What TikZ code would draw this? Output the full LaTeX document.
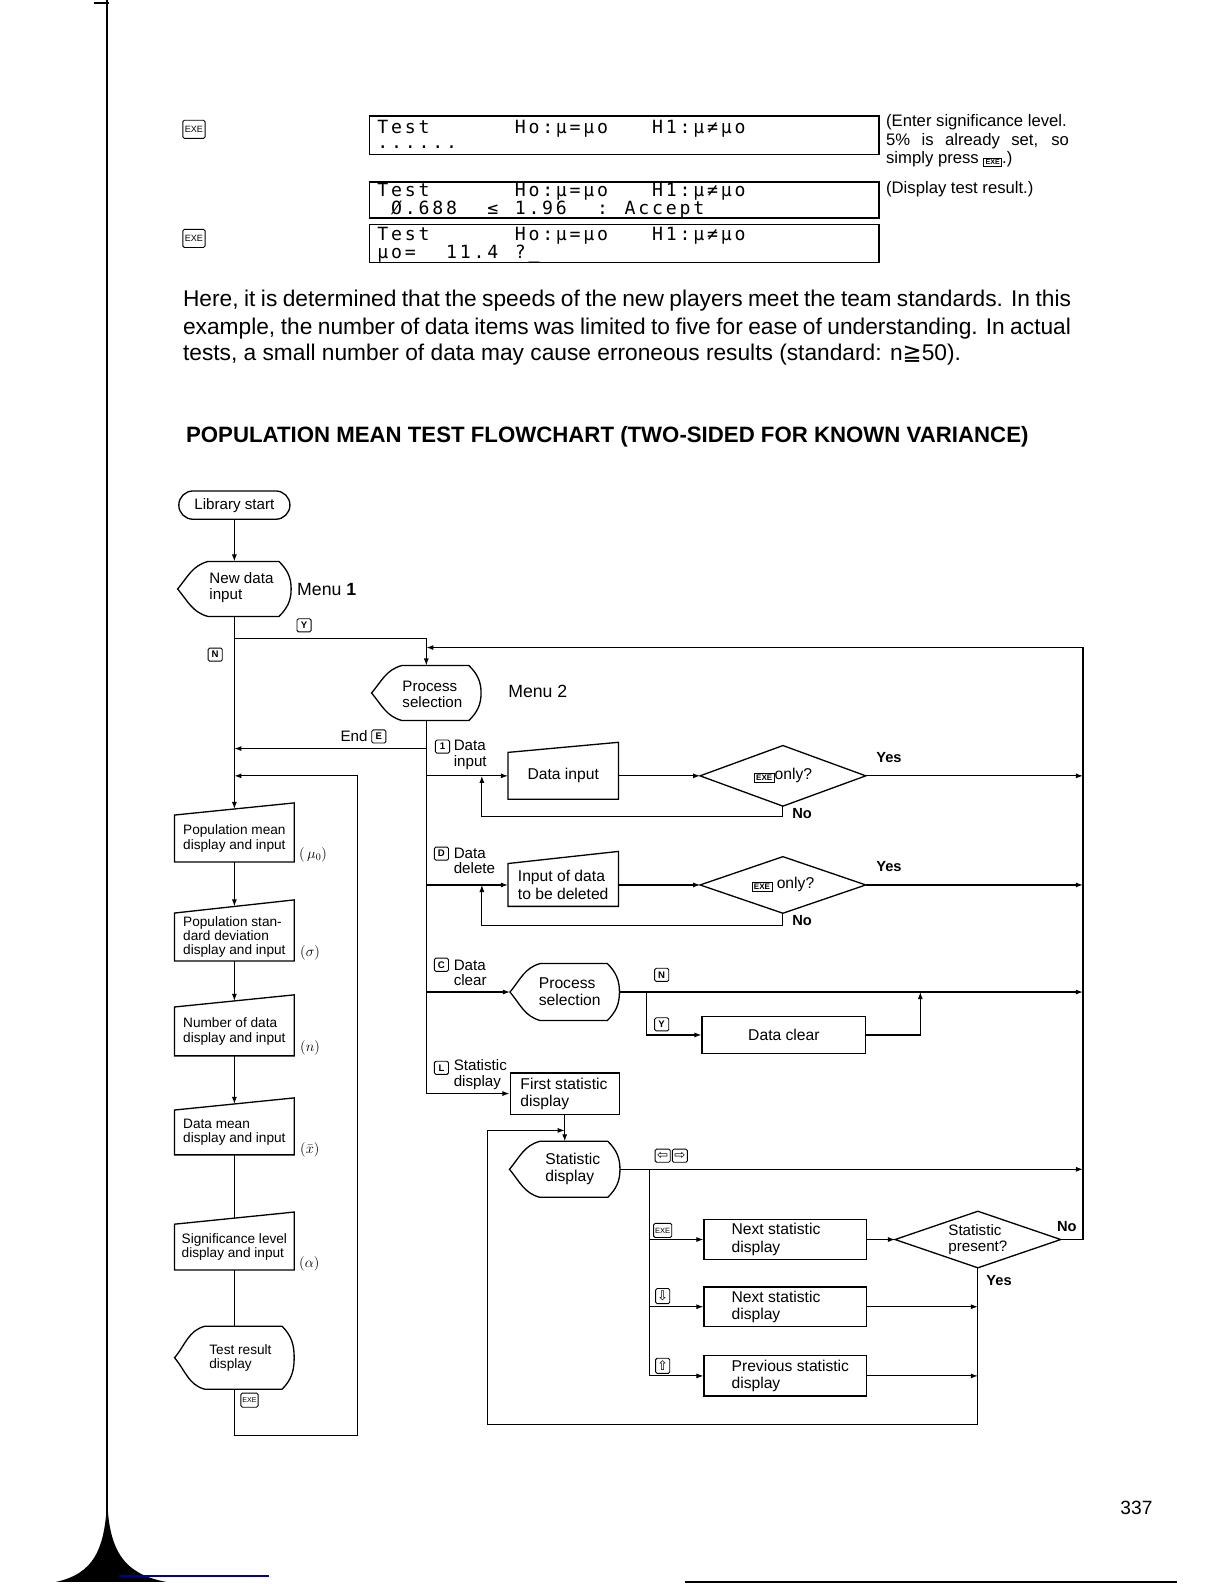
\documentclass[tikz,border=0pt]{standalone}
\usepackage{fontspec}
\setmainfont{Liberation Sans}
\newfontfamily\lcdfont{DejaVu Sans Mono}
\newfontfamily\djv{DejaVu Sans}
\usetikzlibrary{arrows.meta,shapes.geometric,calc}
\newcommand\fsz[2]{\fontsize{#1pt}{#2pt}\selectfont}
\def\lcd#1{\lcdA#1\relax}
\def\lcdA#1{\ifx#1\relax\else\makebox[13.6pt][c]{#1}\expandafter\lcdA\fi}
\newcommand\kbox[2]{{\setlength\fboxsep{1.5pt}\setlength\fboxrule{0.8pt}\raisebox{-1pt}{\fbox{\fsz{#1}{#1}\bfseries #2}}}}
\newcommand\dispout[1]{%
  \draw[shapeline] (#1.west) to[out=50,in=195] ([xshift=30pt]#1.north west)
    -- ([xshift=-12pt]#1.north east) to[out=-45,in=90] (#1.east)
    to[out=-90,in=45] ([xshift=-12pt]#1.south east)
    -- ([xshift=30pt]#1.south west) to[out=165,in=-50] (#1.west) -- cycle;}
\newcommand\manout[2]{%
  \draw[shapeline] (#1.north west) -- ([yshift=#2pt]#1.north east) -- (#1.south east) -- (#1.south west) -- cycle;
  \coordinate (#1-top) at ([yshift=#2pt/2]#1.north);}
\newcommand\diaout[3]{%
  \coordinate (#1-l) at ([xshift=-#2pt]#1.center);
  \coordinate (#1-r) at ([xshift=#2pt]#1.center);
  \coordinate (#1-t) at ([yshift=#3pt]#1.center);
  \coordinate (#1-b) at ([yshift=-#3pt]#1.center);
  \draw[shapeline] (#1-l) -- (#1-t) -- (#1-r) -- (#1-b) -- cycle;}
\tikzset{
  ln/.style={line width=1.1pt},
  arr/.style={line width=1.1pt,-{Latex[length=7pt,width=5pt]}},
  shapeline/.style={line width=1.3pt},
  kbx/.style={draw,line width=0.9pt,rounded corners=1.5pt,inner sep=0pt,minimum width=14pt,minimum height=13pt,font=\fsz{9.5}{9.5}\bfseries},
  bx/.style={draw,line width=1.3pt,inner sep=0pt},
  txt/.style={inner sep=0pt,align=left},
  boxtxt/.style={txt,font=\fsz{15.5}{17}},
  coltxt/.style={txt,font=\fsz{13.5}{14}},
  yn/.style={inner sep=0pt,font=\fsz{14.5}{15}\bfseries},
  lcdbox/.style={draw,line width=1.4pt,minimum width=504pt,inner sep=0pt},
  lcdrow/.style={inner sep=0pt,anchor=west,font=\lcdfont\fsz{18}{18}},
  mlabel/.style={inner sep=0pt,anchor=west,font=\fsz{14}{14}},
}
\begin{document}
\begin{tikzpicture}[x=1pt,y=-1pt]
\fill[white] (0,0) rectangle (1212,1568);
\useasboundingbox (0,0) rectangle (1212,1568);
% page edge
\draw[line width=2pt] (106,0) -- (106,1500);
\draw[line width=1.5pt] (93,3) -- (108,3);
\fill (106,1480) .. controls (107,1535) and (122,1558) .. (165,1566) -- (55,1566) .. controls (92,1558) and (105,1535) .. (106,1480) -- cycle;
\draw[blue!60!black,line width=1.2pt] (118,1560) -- (266,1560);
\draw[line width=2pt] (678,1566) -- (1165,1566);
\node[inner sep=0pt,font=\fsz{19}{19}] (pgno) at (1125,1493) {337};

% ---------- top displays ----------
\node[kbx,minimum width=22pt,minimum height=18pt,font=\fsz{9}{9}] (exeA) at (192,128) {EXE};
\node[kbx,minimum width=22pt,minimum height=18pt,font=\fsz{9}{9}] (exeB) at (192,236) {EXE};
\node[lcdbox,minimum height=38pt] (lcd1) at (618,134) {};
\node[lcdrow] (lcd1a) at (372,127) {\lcd{Test~~~~~~Ho:μ=μo~~~H1:μ≠μo}};
\node[lcdrow] (lcd1b) at (372,146) {\lcd{......}};
\node[lcdbox,minimum height=36pt] (lcd2) at (618,198) {};
\node[lcdrow] (lcd2a) at (372,190) {\lcd{Test~~~~~~Ho:μ=μo~~~H1:μ≠μo}};
\node[lcdrow] (lcd2b) at (372,207) {\lcd{~Ø.688~~≤~1.96~~:~Accept}};
\node[lcdbox,minimum height=38pt] (lcd3) at (618,241) {};
\node[lcdrow] (lcd3a) at (372,233) {\lcd{Test~~~~~~Ho:μ=μo~~~H1:μ≠μo}};
\node[lcdrow] (lcd3b) at (372,251) {\lcd{μo=~~11.4~?\_}};
\node[txt,anchor=west,font=\fsz{16.5}{19}] (note1) at (877,121) {(Enter significance level.};
\node[txt,anchor=west,font=\fsz{16.5}{19}] (note2) at (877,140) {\makebox[181pt][s]{5\% is already set, so}};
\node[txt,anchor=west,font=\fsz{16.5}{19}] (note3) at (877,158) {simply press \kbox{7}{EXE}.)};
\node[txt,anchor=west,font=\fsz{16.5}{19}] (note4) at (877,187) {(Display test result.)};

% ---------- paragraph and title ----------
\node[txt,anchor=west,font=\fsz{22.5}{25}] (par1) at (181,298) {\makebox[879pt][s]{Here, it is determined that the speeds of the new players meet the team standards. In this}};
\node[txt,anchor=west,font=\fsz{22.5}{25}] (par2) at (181,325) {\makebox[879pt][s]{example, the number of data items was limited to five for ease of understanding. In actual}};
\node[txt,anchor=west,font=\fsz{22.5}{25}] (par3) at (181,351) {tests, a small number of data may cause erroneous results (standard: n{\djv ≧}50).};
\node[txt,anchor=west,font=\fsz{22}{24}\bfseries] (title) at (184,432) {POPULATION MEAN TEST FLOWCHART (TWO-SIDED FOR KNOWN VARIANCE)};

% ---------- flowchart nodes ----------
\node[draw,line width=1.3pt,rounded corners=14pt,minimum width=110pt,minimum height=28pt,inner sep=0pt,font=\fsz{15}{17}] (start) at (232,500) {Library start};
\node[inner sep=0pt,minimum width=112pt,minimum height=54pt] (newdata) at (232,583) {};
\dispout{newdata}
\node[coltxt,font=\fsz{15}{16}] (newdata-t) at (239,582) {New data\\input};
\node[txt,anchor=west,font=\fsz{17.5}{19}] (menu1) at (294,584) {Menu \textbf{1}};
\node[kbx] (kY) at (301,619) {Y};
\node[kbx] (kN) at (213,648) {N};

% left column
\node[coltxt,minimum width=118pt,minimum height=46pt] (pm) at (232,830) {Population mean\\display and input};
\manout{pm}{12}
\node[mlabel] (lpm) at (296,846) {$(\,\mu_0)$};
\node[coltxt,minimum width=118pt,minimum height=47pt] (psd) at (232,927.5) {Population stan-\\dard deviation\\display and input};
\manout{psd}{13}
\node[mlabel] (lpsd) at (297,943) {$(\sigma)$};
\node[coltxt,minimum width=118pt,minimum height=48pt] (nd) at (232,1021) {Number of data\\display and input};
\manout{nd}{12}
\node[mlabel] (lnd) at (297,1037) {$(n)$};
\node[coltxt,minimum width=118pt,minimum height=44pt] (dm) at (232,1121) {Data mean\\display and input};
\manout{dm}{12}
\node[mlabel] (ldm) at (297,1138) {$(\bar{x})$};
\node[coltxt,minimum width=118pt,minimum height=45pt] (sl) at (232,1234.5) {Significance level\\display and input};
\manout{sl}{12}
\node[mlabel] (lsl) at (296,1251) {$(\alpha)$};
\node[inner sep=0pt,minimum width=118pt,minimum height=62pt] (tr) at (232,1344) {};
\dispout{tr}
\node[coltxt] (tr-t) at (238,1344) {Test result\\display};
\node[kbx,minimum width=17pt,minimum height=14pt,font=\fsz{7}{7}] (kEXEa) at (247,1386) {EXE};

% menu 2
\node[inner sep=0pt,minimum width=108pt,minimum height=54pt] (ps1) at (422,686) {};
\dispout{ps1}
\node[coltxt,font=\fsz{15}{16}] (ps1-t) at (428,687) {Process\\selection};
\node[txt,anchor=west,font=\fsz{17.5}{19}] (menu2) at (503,684) {Menu 2};
\node[txt,anchor=east,font=\fsz{15}{15}] (lend) at (364,729) {End};
\node[kbx] (kE) at (375,729) {E};

% branch 1
\node[kbx] (k1) at (438,739) {1};
\node[txt,anchor=west,font=\fsz{15}{15.5}] (lb1) at (449,747) {Data\\input};
\node[boxtxt,minimum width=109pt,minimum height=46pt] (di) at (557.5,768) {Data input};
\manout{di}{10}
\node[txt,font=\fsz{15.5}{17}] (d1) at (775,768) {\kbox{8}{EXE}only?};
\diaout{d1}{82}{30}
\node[yn] (yes1) at (880,750) {Yes};
\node[yn] (no1) at (794,805) {No};

% branch 2
\node[kbx] (kD) at (437,845) {D};
\node[txt,anchor=west,font=\fsz{15}{15.5}] (lb2) at (449,852) {Data\\delete};
\node[boxtxt,minimum width=109pt,minimum height=42pt] (idd) at (557.5,876) {Input of data\\to be deleted};
\manout{idd}{12}
\node[txt,font=\fsz{15.5}{17}] (d2) at (775,876) {\kbox{8}{EXE} only?};
\diaout{d2}{82}{28}
\node[yn] (yes2) at (880,858) {Yes};
\node[yn] (no2) at (794,911) {No};

% branch 3
\node[kbx] (kC) at (437,955) {C};
\node[txt,anchor=west,font=\fsz{15}{15.5}] (lb3) at (449,963) {Data\\clear};
\node[inner sep=0pt,minimum width=108pt,minimum height=56pt] (ps2) at (559,982) {};
\dispout{ps2}
\node[boxtxt] (ps2-t) at (564,982) {Process\\selection};
\node[kbx] (kN2) at (655,965) {N};
\node[kbx] (kY2) at (655,1014) {Y};
\node[bx,boxtxt,minimum width=162pt,minimum height=37pt] (dc) at (776,1024.5) {Data clear};

% branch 4
\node[kbx] (kL) at (437,1057) {L};
\node[txt,anchor=west,font=\fsz{15}{15.5}] (lb4) at (449,1064) {Statistic\\display};
\node[bx,minimum width=108pt,minimum height=41pt] (fs) at (559,1082.5) {};
\node[boxtxt,anchor=west] (fs-t) at (515,1082.5) {First statistic\\display};
\node[inner sep=0pt,minimum width=109pt,minimum height=55pt] (sd) at (559,1157.5) {};
\dispout{sd}
\node[boxtxt] (sd-t) at (567,1157) {Statistic\\display};
\node[kbx,minimum width=15pt,font=\djv\fsz{13}{13}] (kLeft) at (656,1144) {⇦};
\node[kbx,minimum width=15pt,font=\djv\fsz{13}{13}] (kRight) at (673,1144) {⇨};
\node[kbx,minimum width=18pt,minimum height=14pt,font=\fsz{7.5}{7.5}] (kEXEb) at (656,1218) {EXE};
\node[kbx,minimum height=15pt,font=\djv\fsz{13}{13}] (kDown) at (656,1283) {⇩};
\node[kbx,minimum height=15pt,font=\djv\fsz{13}{13}] (kUp) at (656,1352) {⇧};
\node[bx,minimum width=161pt,minimum height=40pt] (ns1) at (777.5,1227) {};
\node[boxtxt,anchor=west] (ns1-t) at (724,1227) {Next statistic\\display};
\node[bx,minimum width=161pt,minimum height=39pt] (ns2) at (777.5,1293.5) {};
\node[boxtxt,anchor=west] (ns2-t) at (724,1293.5) {Next statistic\\display};
\node[bx,minimum width=161pt,minimum height=40pt] (pv) at (777.5,1362) {};
\node[boxtxt,anchor=west] (pv-t) at (724,1362) {Previous statistic\\display};
\node[txt,font=\fsz{15}{15.5}] (sp) at (968,1227) {Statistic\\present?};
\diaout{sp}{82}{28}
\node[yn] (no3) at (1056,1214) {No};
\node[yn] (yes3) at (989,1268) {Yes};

% ---------- coordinates ----------
\coordinate (jY) at (232,632);
\coordinate (jY2) at (422,632);
\coordinate (Lt) at (422,641);
\coordinate (Rt) at (1072,641);
\coordinate (Rb) at (1072,1227);
\coordinate (tE) at (422,741);
\coordinate (lE) at (232,741);
\coordinate (t1) at (422,768);
\coordinate (t2) at (422,876);
\coordinate (t3) at (422,982);
\coordinate (tL) at (422,1082.5);
\coordinate (n1a) at (775,808);
\coordinate (n1b) at (477,808);
\coordinate (n1c) at (477,768);
\coordinate (n2a) at (775,916);
\coordinate (n2b) at (477,916);
\coordinate (n2c) at (477,876);
\coordinate (R1) at (1072,768);
\coordinate (R2) at (1072,876);
\coordinate (R3) at (1072,982);
\coordinate (R4) at (1072,1157.5);
\coordinate (cJ) at (640,982);
\coordinate (cJ2) at (640,1024.5);
\coordinate (cU1) at (911,1024.5);
\coordinate (cU2) at (911,982);
\coordinate (sJ) at (643,1157.5);
\coordinate (s1) at (643,1227);
\coordinate (s2) at (643,1293.5);
\coordinate (s3) at (643,1362);
\coordinate (m2) at (968,1293.5);
\coordinate (m3) at (968,1362);
\coordinate (lb1c) at (968,1410);
\coordinate (lb2c) at (483,1410);
\coordinate (lb3c) at (483,1119);
\coordinate (lb4c) at (559,1119);
\coordinate (b1) at (232,1421);
\coordinate (b2) at (354,1421);
\coordinate (b3) at (354,768);
\coordinate (b4) at (232,768);

% ---------- connectors ----------
\draw[arr] (start) -- (newdata);
\draw[ln] (newdata.south) -- (jY);
\draw[arr] (jY) -- (pm-top);
\draw[arr] (jY) -- (jY2) -- (ps1.north);
\draw[arr] (sp-r) -- (Rb) -- (Rt) -- (Lt);
\draw[arr] (pm.south) -- (psd-top);
\draw[arr] (psd.south) -- (nd-top);
\draw[arr] (nd.south) -- (dm-top);
\draw[ln] (dm.south) -- (sl-top);
\draw[ln] (sl.south) -- (tr.north);
\draw[arr] (tr.south) -- (b1) -- (b2) -- (b3) -- (b4);
\draw[arr] (tE) -- (lE);
\draw[ln] (ps1.south) -- (tL);
\draw[arr] (t1) -- (di.west);
\draw[arr] (di.east) -- (d1-l);
\draw[arr] (d1-r) -- (R1);
\draw[arr] (d1-b) -- (n1a) -- (n1b) -- (n1c);
\draw[arr] (t2) -- (idd.west);
\draw[arr] (idd.east) -- (d2-l);
\draw[arr] (d2-r) -- (R2);
\draw[arr] (d2-b) -- (n2a) -- (n2b) -- (n2c);
\draw[arr] (t3) -- (ps2.west);
\draw[arr] (ps2.east) -- (R3);
\draw[arr] (cJ) -- (cJ2) -- (dc.west);
\draw[arr] (dc.east) -- (cU1) -- (cU2);
\draw[arr] (tL) -- (fs.west);
\draw[arr] (fs.south) -- (sd.north);
\draw[arr] (sd.east) -- (R4);
\draw[ln] (sJ) -- (s3);
\draw[arr] (s1) -- (ns1.west);
\draw[arr] (s2) -- (ns2.west);
\draw[arr] (s3) -- (pv.west);
\draw[arr] (ns1.east) -- (sp-l);
\draw[arr] (ns2.east) -- (m2);
\draw[arr] (pv.east) -- (m3);
\draw[arr] (sp-b) -- (lb1c) -- (lb2c) -- (lb3c) -- (lb4c);
\end{tikzpicture}
\end{document}
